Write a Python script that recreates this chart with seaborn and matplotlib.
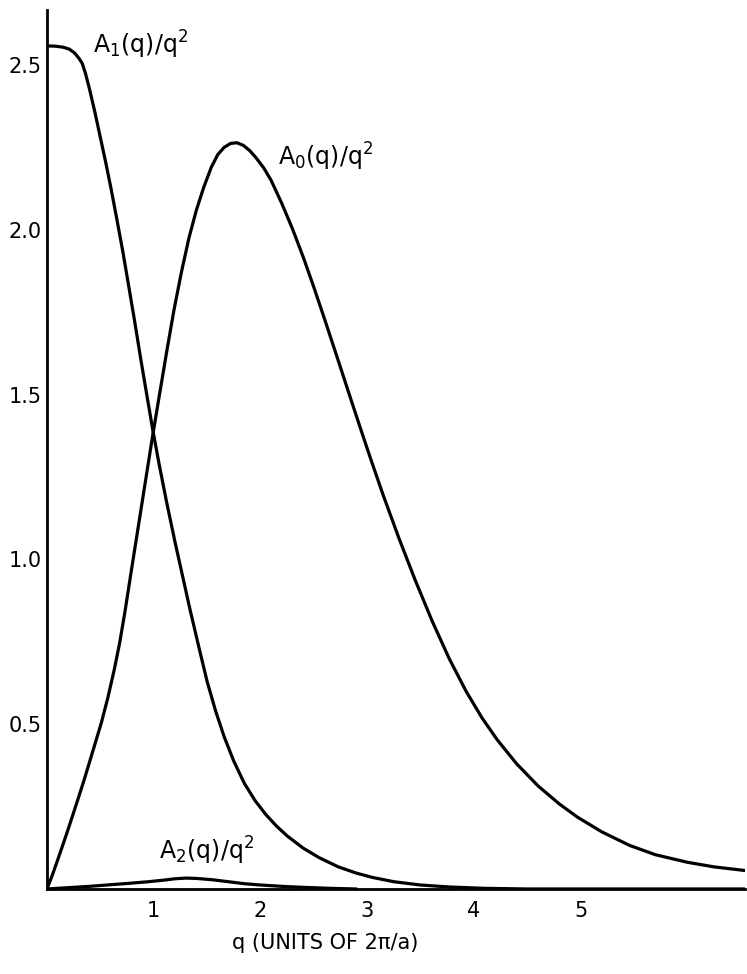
import pandas as pd
import matplotlib
matplotlib.use("Agg")
import matplotlib.pyplot as plt
import seaborn as sns

# Curve readings (q in units of 2pi/a)
q_a1 = [0.00, 0.08, 0.15, 0.21, 0.26, 0.30, 0.33, 0.36, 0.40, 0.45, 0.50, 0.55,
        0.60, 0.65, 0.71, 0.76, 0.82, 0.88, 0.94, 0.99, 1.05, 1.12, 1.20, 1.27,
        1.34, 1.42, 1.50, 1.58, 1.66, 1.75, 1.85, 1.95, 2.05, 2.15, 2.25, 2.40,
        2.55, 2.73, 2.90, 3.05, 3.25, 3.50, 3.77, 4.10, 4.50, 6.54]
a1 = [2.558, 2.557, 2.554, 2.548, 2.536, 2.520, 2.505, 2.475, 2.425, 2.355, 2.280, 2.205,
      2.125, 2.040, 1.935, 1.840, 1.725, 1.605, 1.490, 1.395, 1.290, 1.175, 1.052, 0.950,
      0.848, 0.738, 0.630, 0.540, 0.462, 0.388, 0.320, 0.268, 0.226, 0.191, 0.161, 0.124,
      0.095, 0.067, 0.048, 0.035, 0.022, 0.012, 0.006, 0.002, 0.000, 0.000]

q_a0 = [0.00, 0.05, 0.10, 0.15, 0.20, 0.28, 0.35, 0.42, 0.51, 0.57, 0.63, 0.68,
        0.73, 0.79, 0.85, 0.92, 0.99, 1.05, 1.12, 1.19, 1.26, 1.33, 1.40, 1.47,
        1.54, 1.60, 1.66, 1.72, 1.78, 1.84, 1.90, 1.96, 2.03, 2.10, 2.20, 2.30,
        2.40, 2.50, 2.60, 2.72, 2.85, 2.95, 3.04, 3.15, 3.30, 3.45, 3.61, 3.77,
        3.93, 4.08, 4.22, 4.40, 4.60, 4.80, 4.97, 5.20, 5.46, 5.70, 6.00, 6.25, 6.54]
a0 = [0.000, 0.042, 0.088, 0.135, 0.183, 0.262, 0.333, 0.408, 0.505, 0.580, 0.665, 0.745,
      0.840, 0.965, 1.088, 1.232, 1.375, 1.492, 1.627, 1.757, 1.872, 1.975, 2.060, 2.130,
      2.190, 2.228, 2.250, 2.262, 2.264, 2.256, 2.240, 2.218, 2.188, 2.150, 2.080, 2.003,
      1.918, 1.826, 1.730, 1.612, 1.483, 1.385, 1.298, 1.195, 1.062, 0.937, 0.812, 0.698,
      0.598, 0.517, 0.452, 0.380, 0.313, 0.258, 0.218, 0.173, 0.132, 0.104, 0.081, 0.067, 0.056]

q_a2 = [0.00, 0.20, 0.40, 0.60, 0.80, 0.95, 1.10, 1.20, 1.30, 1.40, 1.55, 1.70,
        1.85, 2.00, 2.20, 2.40, 2.65, 2.90]
a2 = [0.000, 0.004, 0.008, 0.013, 0.018, 0.022, 0.027, 0.031, 0.033, 0.032, 0.028, 0.022,
      0.016, 0.012, 0.008, 0.005, 0.002, 0.000]

y_ticks = [0.5, 1.0, 1.5, 2.0, 2.5]
y_labels = ["0.5", "1.0", "1.5", "2.0", "2.5"]
x_ticks = [1, 2, 3, 4, 5]
x_labels = ["1", "2", "3", "4", "5"]

sns.set_style("white")
plt.rcParams["font.family"] = ["DejaVu Sans"]
plt.rcParams["text.color"] = "black"
plt.rcParams["axes.labelcolor"] = "black"

fig = plt.figure(figsize=(7.47, 9.74), dpi=100)
ax = fig.add_axes([0.0629, 0.0873, 0.9344, 0.9025])

for qs, vals in [(q_a1, a1), (q_a0, a0), (q_a2, a2)]:
    df = pd.DataFrame({"q": qs, "v": vals})
    sns.lineplot(data=df, x="q", y="v", ax=ax, color="black", linewidth=2.3)

ax.set_xlim(0, 6.54)
ax.set_ylim(0, 2.667)
ax.set_xticks(x_ticks)
ax.set_xticklabels(x_labels)
ax.set_yticks(y_ticks)
ax.set_yticklabels(y_labels)
ax.tick_params(direction="in", length=14, width=1.2, labelsize=15, colors="black")
ax.tick_params(axis="x", pad=9)
ax.tick_params(axis="y", pad=4)

sns.despine(ax=ax)
for s in ["left", "bottom"]:
    ax.spines[s].set_linewidth(2)
    ax.spines[s].set_color("black")

ax.set_ylabel("")
ax.set_xlabel("q (UNITS OF 2π/a)", fontsize=15, color="black")
ax.xaxis.set_label_coords(0.398, -0.05)

# curve labels
ax.text(0.43, 2.56, "A$_1$(q)/q$^2$", fontsize=17, va="center", ha="left", color="black")
ax.text(2.16, 2.22, "A$_0$(q)/q$^2$", fontsize=17, va="center", ha="left", color="black")
ax.text(1.05, 0.115, "A$_2$(q)/q$^2$", fontsize=17, va="center", ha="left", color="black")

fig.savefig("out.png", dpi=100)
